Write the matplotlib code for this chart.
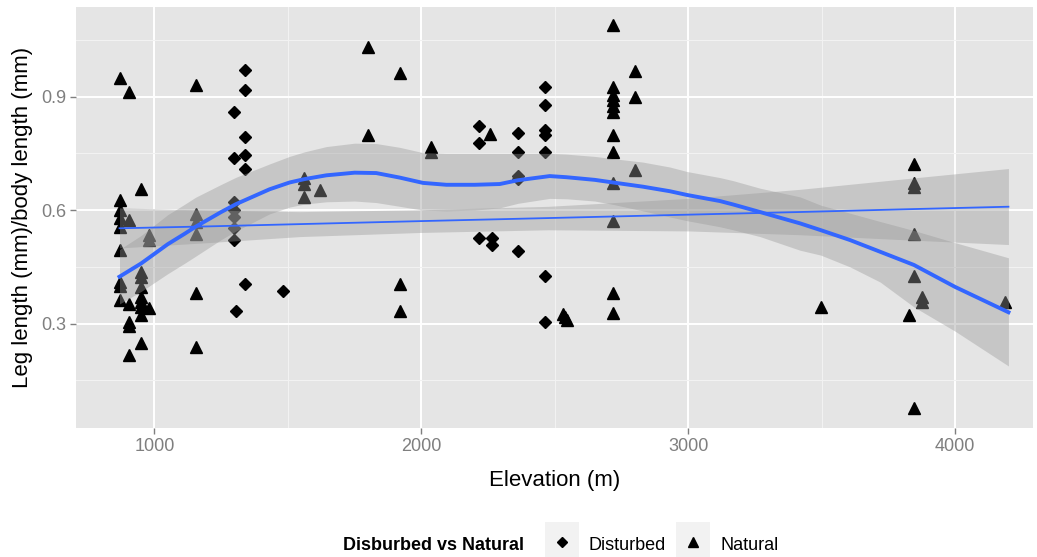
import numpy as np
import matplotlib
matplotlib.use("Agg")
import matplotlib.pyplot as plt
from matplotlib.patches import Rectangle
from matplotlib.lines import Line2D

plt.rcParams['font.family'] = ['Liberation Sans', 'DejaVu Sans']

# disturbed sites (diamonds)
dist_elev = [1297, 1297, 1297, 1297, 1297, 1297, 1297, 1306,
             1340, 1340, 1340, 1340, 1340, 1340, 1481,
             2215, 2215, 2215, 2266, 2266,
             2362, 2362, 2362, 2362, 2362,
             2465, 2465, 2465, 2465, 2465, 2465, 2465]
dist_ratio = [0.860, 0.737, 0.622, 0.600, 0.582, 0.552, 0.521, 0.334,
              0.970, 0.917, 0.794, 0.745, 0.710, 0.406, 0.387,
              0.822, 0.778, 0.525, 0.527, 0.509,
              0.803, 0.754, 0.690, 0.682, 0.492,
              0.926, 0.878, 0.811, 0.798, 0.754, 0.426, 0.305]

# natural sites (triangles)
nat_elev = [869] * 9 + [906] * 6 + [950] * 9 + [981] * 3 + [1154] * 6 + \
           [1562, 1562, 1562, 1621, 1800, 1800, 1919, 1919, 1919, 2037, 2037, 2259,
            2530, 2540, 2545] + [2719] * 12 + [2800] * 3 + \
           [3497, 3827] + [3846] * 6 + [3877, 3877, 4187]
nat_ratio = [0.948, 0.628, 0.600, 0.578, 0.556, 0.494, 0.410, 0.400, 0.362,
             0.913, 0.575, 0.353, 0.305, 0.293, 0.217,
             0.657, 0.437, 0.424, 0.397, 0.371, 0.358, 0.345, 0.322, 0.249,
             0.535, 0.522, 0.340,
             0.930, 0.591, 0.569, 0.538, 0.380, 0.239,
             0.684, 0.670, 0.635, 0.653, 1.032, 0.798, 0.963, 0.404, 0.333,
             0.767, 0.754, 0.800,
             0.325, 0.318, 0.310,
             1.089, 0.925, 0.905, 0.890, 0.875, 0.860, 0.798, 0.754, 0.672, 0.572, 0.381, 0.327,
             0.968, 0.898, 0.706,
             0.343, 0.322,
             0.723, 0.671, 0.662, 0.538, 0.426, 0.076,
             0.371, 0.358, 0.358]

# loess smooth with its confidence band
lo_x = [869, 950, 1050, 1112, 1154, 1250, 1306, 1431, 1506, 1562, 1644, 1750, 1831, 1919,
        2006, 2094, 2200, 2294, 2362, 2481, 2544, 2650, 2719, 2830, 2931, 2996, 3119,
        3168, 3269, 3419, 3497, 3606, 3719, 3846, 4000, 4200]
lo_fit = [0.424, 0.459, 0.510, 0.537, 0.556, 0.595, 0.616, 0.655, 0.673, 0.682, 0.692, 0.699,
          0.698, 0.686, 0.672, 0.667, 0.667, 0.669, 0.679, 0.690, 0.687, 0.680, 0.673, 0.662,
          0.650, 0.640, 0.624, 0.615, 0.595, 0.565, 0.547, 0.521, 0.490, 0.455, 0.397, 0.330]
lo_low = [0.352, 0.385, 0.432, 0.459, 0.478, 0.522, 0.545, 0.590, 0.608, 0.616, 0.622, 0.624,
          0.620, 0.610, 0.600, 0.598, 0.600, 0.606, 0.618, 0.631, 0.630, 0.624, 0.615, 0.598,
          0.582, 0.572, 0.556, 0.548, 0.530, 0.494, 0.481, 0.450, 0.410, 0.344, 0.280, 0.188]
lo_high = [0.496, 0.533, 0.588, 0.615, 0.634, 0.668, 0.687, 0.722, 0.742, 0.754, 0.768, 0.777,
           0.776, 0.766, 0.752, 0.750, 0.750, 0.750, 0.750, 0.750, 0.748, 0.742, 0.736, 0.727,
           0.714, 0.702, 0.686, 0.678, 0.658, 0.635, 0.613, 0.592, 0.570, 0.546, 0.514, 0.474]

# linear fit with its confidence band
lm_x = [869, 1200, 1544, 2000, 2475, 3000, 3419, 3800, 4200]
lm_fit = [0.552, 0.557, 0.563, 0.571, 0.579, 0.588, 0.595, 0.602, 0.609]
lm_low = [0.500, 0.514, 0.530, 0.541, 0.548, 0.545, 0.535, 0.522, 0.509]
lm_high = [0.606, 0.600, 0.596, 0.601, 0.610, 0.631, 0.655, 0.682, 0.710]

fig = plt.figure(figsize=(10.37, 5.57), dpi=100)
W, H = 1037.0, 557.0
ax = fig.add_axes([76 / W, 1 - 428 / H, 957 / W, 421 / H])
ax.set_facecolor('#e5e5e5')
for s in ax.spines.values():
    s.set_visible(False)

ax.set_xlim(706, 4292)
ax.set_ylim(0.024, 1.137)
ax.set_xticks([1000, 2000, 3000, 4000])
ax.set_yticks([0.3, 0.6, 0.9])
ax.set_xticks([1500, 2500, 3500], minor=True)
ax.set_yticks([0.15, 0.45, 0.75, 1.05], minor=True)
ax.grid(which='major', color='white', linewidth=1.4)
ax.grid(which='minor', color='#f2f2f2', linewidth=0.8)
ax.set_axisbelow(True)
ax.tick_params(which='major', length=4, width=1, color='#7f7f7f',
               labelcolor='#7f7f7f', labelsize=13, pad=3)
ax.tick_params(which='minor', length=0)
ax.set_yticklabels(['0.3', '0.6', '0.9'])

ax.plot(dist_elev, dist_ratio, linestyle='none', marker='D', markersize=6.5,
        color='black', zorder=2)
ax.plot(nat_elev, nat_ratio, linestyle='none', marker='^', markersize=9,
        color='black', zorder=2)

ax.fill_between(lo_x, lo_low, lo_high, color='#999999', alpha=0.4, linewidth=0, zorder=3)
ax.fill_between(lm_x, lm_low, lm_high, color='#999999', alpha=0.4, linewidth=0, zorder=3)
ax.plot(lm_x, lm_fit, color='#3366ff', linewidth=1.3, zorder=4)
ax.plot(lo_x, lo_fit, color='#3366ff', linewidth=2.8, zorder=4)

ax.set_xlabel('Elevation (m)', fontsize=16, labelpad=11)
ax.set_ylabel('Leg length (mm)/body length (mm)', fontsize=16, labelpad=6)

# legend along the bottom
fig.text(343 / W, 1 - 545 / H, 'Disburbed vs Natural', fontsize=13, fontweight='bold',
         ha='left', va='center')
for x0, mk, ms, label in [(545, 'D', 6.5, 'Disturbed'), (676, '^', 9, 'Natural')]:
    fig.add_artist(Rectangle((x0 / W, 0), 34 / W, 35 / H, transform=fig.transFigure,
                             facecolor='#f2f2f2', edgecolor='none'))
    fig.add_artist(Line2D([(x0 + 17) / W], [1 - 542 / H], transform=fig.transFigure,
                          marker=mk, markersize=ms * 0.8, color='black', linestyle='none'))
    fig.text((x0 + 44) / W, 1 - 545 / H, label, fontsize=13, ha='left', va='center')

fig.savefig('out.png', dpi=100)
